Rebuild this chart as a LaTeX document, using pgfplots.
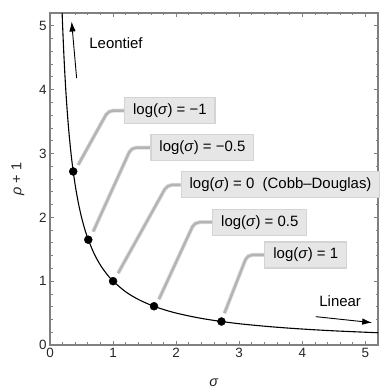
\documentclass[border=0pt]{standalone}
\usepackage{pgfplots}
\pgfplotsset{compat=1.18}
\usepackage{fontspec}
\setmainfont{Liberation Sans}
\usetikzlibrary{arrows.meta}

\definecolor{framegray}{HTML}{808080}
\definecolor{boxfill}{HTML}{E6E6E6}
\definecolor{boxdraw}{HTML}{D4D4D4}
\definecolor{leadgray}{HTML}{B4B4B4}
\definecolor{leadhalo}{HTML}{DCDCDC}

\tikzset{
  callbox/.style={anchor=west, fill=boxfill, draw=boxdraw, line width=1.2bp,
    inner xsep=8.5bp, inner ysep=5bp, minimum height=26bp,
    font=\fontsize{15}{17}\selectfont},
  leader/.style={leadgray, line width=2.4bp, rounded corners=5bp,
    preaction={draw=leadhalo, line width=4bp}},
  note/.style={font=\fontsize{15}{17}\selectfont},
}

\begin{document}
\begin{tikzpicture}
\begin{axis}[
    width=328bp, height=332bp, scale only axis,
    xmin=0, xmax=5.2, ymin=0, ymax=5.2,
    xtick={0,1,2,3,4,5}, ytick={0,1,2,3,4,5},
    minor tick num=4,
    major tick length=4bp, minor tick length=2.5bp,
    axis line style={framegray, line width=1.1bp},
    every tick/.style={framegray, line width=0.8bp},
    tick label style={font=\fontsize{13.5}{15}\selectfont, text=black!85},
    /pgf/number format/assume math mode=true,
    xlabel={\textit{σ}}, ylabel={\textit{ρ} + 1},
    label style={font=\fontsize{14.5}{16}\selectfont, text=black!85},
    xlabel style={at={(axis description cs:0.5,-0.115)}, anchor=center},
    ylabel style={at={(axis description cs:-0.0976,0.5)}, anchor=center},
    clip=false,
]

% rho + 1 = 1/sigma
\addplot[black, line width=1.1bp, smooth] coordinates {
    (0.1923, 5.2) (0.2, 5.0) (0.22, 4.545) (0.24, 4.167) (0.26, 3.846)
    (0.28, 3.571) (0.3, 3.333) (0.33, 3.030) (0.36, 2.778) (0.4, 2.5)
    (0.45, 2.222) (0.5, 2.0) (0.55, 1.818) (0.6, 1.667) (0.7, 1.429)
    (0.8, 1.25) (0.9, 1.111) (1.0, 1.0) (1.2, 0.833) (1.4, 0.714)
    (1.6, 0.625) (1.8, 0.556) (2.0, 0.5) (2.3, 0.435) (2.6, 0.385)
    (3.0, 0.333) (3.5, 0.286) (4.0, 0.25) (4.5, 0.222) (5.0, 0.2)
    (5.2, 0.192)
};

% leaders and labels
\draw[leader] (axis cs:0.447,2.821) -- (axis cs:0.924,3.672) -- (axis cs:1.174,3.672);
\draw[leader] (axis cs:0.684,1.776) -- (axis cs:1.289,3.092) -- (axis cs:1.591,3.092);
\draw[leader] (axis cs:1.079,1.124) -- (axis cs:1.858,2.508) -- (axis cs:2.070,2.508);
\draw[leader] (axis cs:1.727,0.716) -- (axis cs:2.291,1.923) -- (axis cs:2.570,1.923);
\draw[leader] (axis cs:2.765,0.497) -- (axis cs:3.128,1.411) -- (axis cs:3.397,1.411);

\node[callbox] at (axis cs:1.174,3.672) {log(\textit{σ}) = −1};
\node[callbox] at (axis cs:1.591,3.092) {log(\textit{σ}) = −0.5};
\node[callbox] at (axis cs:2.070,2.508) {log(\textit{σ}) = 0\ \ (Cobb–Douglas)};
\node[callbox] at (axis cs:2.570,1.923) {log(\textit{σ}) = 0.5};
\node[callbox] at (axis cs:3.397,1.411) {log(\textit{σ}) = 1};

\addplot[only marks, mark=*, mark size=4bp, mark options={fill=black, draw=black}]
coordinates {(0.368, 2.718) (0.607, 1.649) (1.0, 1.0) (1.649, 0.607) (2.718, 0.368)};

% limit arrows
\draw[-{Latex[length=10bp,width=6.5bp]}, line width=0.9bp] (axis cs:0.422,4.18) -- (axis cs:0.343,5.067);
\node[note, anchor=west] at (axis cs:0.569,4.729) {Leontief};
\draw[-{Latex[length=10bp,width=6.5bp]}, line width=0.9bp] (axis cs:4.213,0.444) -- (axis cs:5.107,0.350);
\node[note] at (axis cs:4.60,0.694) {Linear};

\end{axis}
\pgfresetboundingbox
\path[use as bounding box] (-50bp,-47bp) rectangle (330bp,345bp);
\end{tikzpicture}
\end{document}
